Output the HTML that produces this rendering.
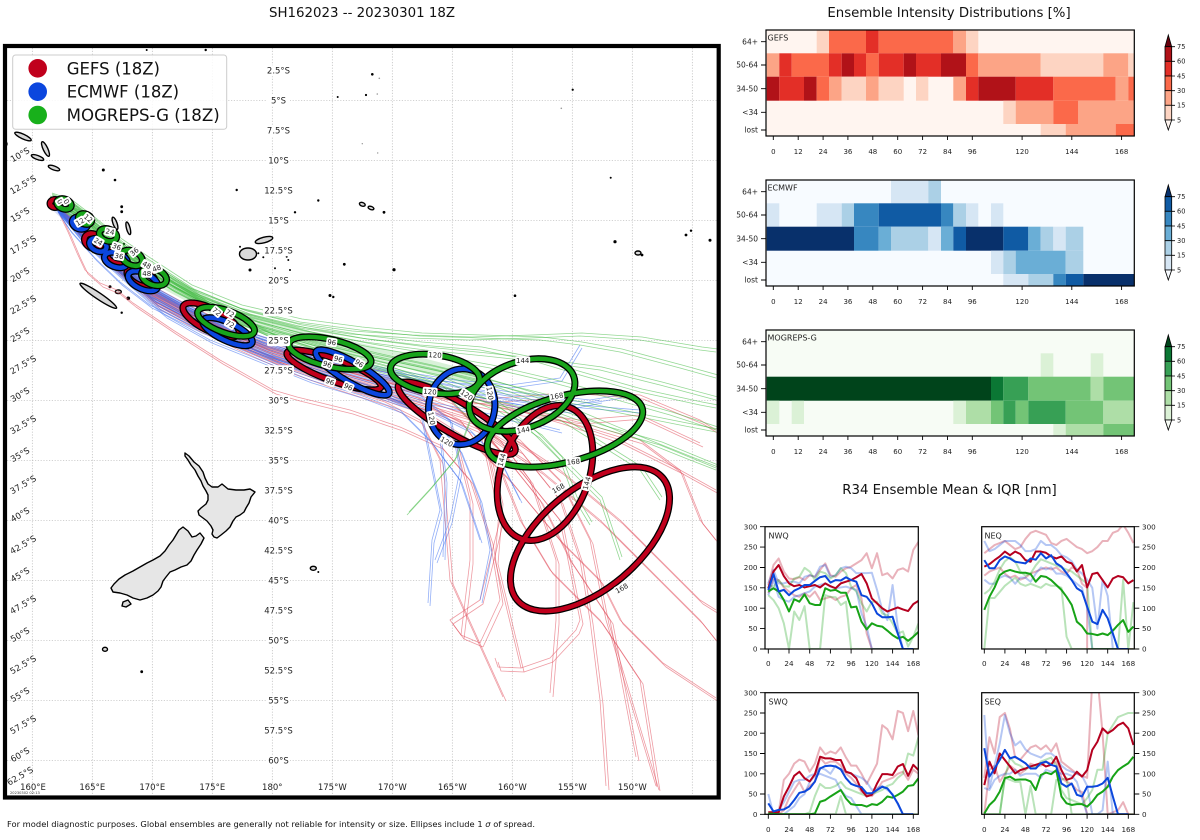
<!DOCTYPE html>
<html><head><meta charset="utf-8"><style>
html,body{margin:0;padding:0;background:#fff;}
svg{display:block;font-family:"DejaVu Sans","Liberation Sans",sans-serif;}
.tr{fill:none;stroke-width:0.8;stroke-opacity:0.55;stroke-linejoin:round}
.tg{stroke:#3cb83c}.tb{stroke:#3a6ef0}.trd{stroke:#e04858}
.gl{stroke:#b8b8b8;stroke-width:0.7;stroke-dasharray:1.2,1.6}
.lbl{font-size:8.5px;fill:#222}
.el{fill:none}
.ek{stroke:#000;stroke-width:7}
.er{stroke:#c0001c;stroke-width:4.4}
.eb{stroke:#0b46de;stroke-width:4.4}
.eg{stroke:#18a41b;stroke-width:4.4}
.elt{font-size:7px;fill:#222}
.tk{font-size:7.2px;fill:#222}
.ln{fill:none;vector-effect:non-scaling-stroke;stroke-width:2;stroke-linejoin:round}
.lt{fill:none;vector-effect:non-scaling-stroke;stroke-width:2;stroke-opacity:0.3;stroke-linejoin:round}
.R{stroke:#b5001f}.B{stroke:#0b47dc}.G{stroke:#17a317}
</style></head><body>
<svg width="1200" height="840" viewBox="0 0 1200 840" xmlns="http://www.w3.org/2000/svg">
<defs>
<clipPath id="mapclip"><rect x="7" y="48" width="709.7" height="747.5"/></clipPath>
<clipPath id="cNW"><rect x="765" y="526.7" width="153.3" height="122.3"/></clipPath>
<clipPath id="cNE"><rect x="981.7" y="526.7" width="152.6" height="122.3"/></clipPath>
<clipPath id="cSW"><rect x="765" y="692.7" width="153.3" height="121.6"/></clipPath>
<clipPath id="cSE"><rect x="981.7" y="692.7" width="152.6" height="121.6"/></clipPath>
<g id="trG">
<polyline class="tr tg" points="50,196 70,203 95,222 120,242 150,262 190,288 240,308 300,322 360,330 420,336 480,338 540,340 580,345 620,352 680,368 716,378"/>
<polyline class="tr tg" points="50,198 72,207 98,227 125,250 155,270 195,295 245,314 300,328 360,338 420,345 480,350 530,360 580,375 640,392 700,405 716,408"/>
<polyline class="tr tg" points="52,200 75,210 100,232 128,254 158,274 200,300 250,320 310,335 370,347 430,357 490,368 550,382 610,398 670,415 716,430"/>
<polyline class="tr tg" points="52,201 76,213 102,236 130,258 160,278 205,304 255,324 315,341 375,356 430,368 480,380 530,395 580,415 640,440 690,460 716,470"/>
<polyline class="tr tg" points="53,202 78,216 104,239 133,261 163,281 210,308 260,330 320,347 380,362 440,375 500,392 550,410 600,428 660,445 716,468"/>
<polyline class="tr tg" points="54,203 80,218 106,241 135,264 166,284 215,311 265,333 325,351 385,366 440,380 490,400 530,430 560,460 575,500 590,525"/>
<polyline class="tr tg" points="54,204 80,220 108,244 138,267 170,288 220,314 270,336 330,354 390,370 440,388 470,420 455,460 430,490 407,515"/>
<polyline class="tr tg" points="55,205 82,222 110,246 140,269 172,290 225,317 275,339 335,358 395,374 450,392 500,412 540,438 570,470 600,500 620,560"/>
<polyline class="tr tg" points="51,199 74,209 98,230 126,252 156,272 198,298 248,317 305,331 365,342 425,350 485,356 540,362 600,370 660,385 716,400"/>
<polyline class="tr tg" points="50,197 70,205 96,224 122,246 152,266 192,292 240,312 295,326 350,334 410,338 470,340 530,338 580,336 640,340 700,350 716,352"/>
<polyline class="tr tg" points="56,206 84,225 112,248 142,271 175,292 228,319 280,341 340,361 400,378 460,396 520,410 560,420 600,445 640,470 660,500"/>
<polyline class="tr tg" points="52,200 77,213 103,237 131,259 162,280 207,305 258,326 318,344 378,358 435,370 495,385 555,400 615,412 680,425 716,432"/>
</g>
<g id="trB">
<polyline class="tr tb" points="54,204 74,222 98,245 122,266 148,286 185,306 220,323 260,339 310,354 360,367 410,378 460,388 520,398 580,405 640,410"/>
<polyline class="tr tb" points="54,205 75,225 100,249 125,270 150,290 188,310 225,328 265,344 315,360 365,372 415,384 465,395 520,405 570,410"/>
<polyline class="tr tb" points="55,206 76,228 101,252 127,274 152,294 190,314 228,333 270,350 320,366 370,380 420,395 450,420 460,470 450,520 435,560"/>
<polyline class="tr tb" points="55,207 77,230 102,255 128,277 154,298 192,318 232,338 275,356 325,372 375,388 420,410 430,460 440,510 432,540 428,603"/>
<polyline class="tr tb" points="56,208 78,232 104,258 130,280 156,302 195,322 236,342 280,361 330,378 380,394 430,415 460,450 480,500 490,550 480,600"/>
<polyline class="tr tb" points="53,203 74,220 97,243 121,263 147,283 183,303 218,320 258,335 305,350 355,362 405,372 455,380 510,385 560,378 580,345"/>
<polyline class="tr tb" points="54,204 75,223 99,247 124,268 149,288 186,308 222,326 262,342 312,357 362,370 412,382 462,392 520,402 560,408 600,400"/>
<polyline class="tr tb" points="56,209 79,235 106,261 132,284 158,306 198,327 240,347 285,366 335,383 385,398 420,410 440,440 445,480 443,557"/>
<polyline class="tr tb" points="57,210 80,238 108,265 136,290 165,315 210,340 260,360 310,380 360,395 400,410 430,440 460,480 480,540"/>
<polyline class="tr tb" points="53,204 74,221 98,244 123,265 148,285 184,305 220,322 262,337 310,352 360,364 410,375 460,384 510,392 545,395 590,400 620,395"/>
<polyline class="tr tb" points="55,206 76,229 100,254 126,276 151,297 190,318 228,337 270,355 322,371 372,386 420,400 470,410 520,420 560,430"/>
<polyline class="tr tb" points="58,212 70,230 95,258 120,282 150,305 200,330 260,352 320,372 380,392 430,410 470,430 500,460 520,500"/>
</g>
<g id="trR">
<polyline class="tr trd" points="52,201 74,222 98,246 123,268 148,288 186,309 222,327 262,343 312,359 362,373 412,386 450,400 480,430 500,470 520,520 550,570 600,620 640,680 657,787"/>
<polyline class="tr trd" points="52,202 75,225 100,250 125,272 150,292 188,313 225,331 266,348 316,365 366,380 416,394 460,410 500,440 530,480 556,560 556,620 550,693"/>
<polyline class="tr trd" points="53,203 76,228 102,253 128,276 154,296 192,317 230,336 272,354 322,371 372,386 420,400 470,415 520,440 560,480 590,540 606,620 630,700 656,786"/>
<polyline class="tr trd" points="51,200 73,219 97,242 122,263 147,283 184,303 220,320 260,336 310,352 360,366 410,378 460,392 510,405 560,420 620,440 680,470 716,490"/>
<polyline class="tr trd" points="55,205 68,232 77,253 85,270 100,283 117,290 133,303 173,330 220,360 273,390 297,397 350,410 400,427 440,445 470,480 490,540 500,600 480,643"/>
<polyline class="tr trd" points="54,204 77,231 103,257 130,280 156,302 195,322 234,342 278,360 328,377 378,393 425,410 455,440 470,500 470,560 461,635"/>
<polyline class="tr trd" points="52,201 74,221 98,245 123,267 148,287 185,307 221,325 261,341 311,357 361,371 411,384 470,398 530,410 590,425 640,440 680,470 700,520 716,540"/>
<polyline class="tr trd" points="53,203 76,227 101,251 127,273 153,294 191,315 229,334 270,351 320,368 370,383 418,398 460,420 490,460 500,500 495,560 521,668 498,667 495,658"/>
<polyline class="tr trd" points="54,205 78,232 104,258 131,281 157,303 196,324 236,344 280,362 330,380 380,396 426,412 470,440 510,480 560,540 600,580 620,620 663,663 716,698"/>
<polyline class="tr trd" points="53,202 75,224 100,249 126,271 152,292 190,312 228,331 270,348 320,364 370,378 420,390 470,402 520,412 580,420 640,415 700,443"/>
<polyline class="tr trd" points="55,206 79,234 105,260 132,284 158,306 198,328 240,348 285,368 335,386 385,402 420,420 440,460 445,520 450,580 503,697"/>
<polyline class="tr trd" points="52,201 74,221 99,246 124,268 149,288 186,309 223,328 264,345 314,362 364,376 414,390 470,400 540,395 580,390 640,395 700,420 716,430"/>
<polyline class="tr trd" points="54,205 77,230 102,255 128,278 154,299 194,320 232,340 276,358 326,375 376,391 424,406 480,430 540,470 600,520 660,580 700,620 716,640"/>
<polyline class="tr trd" points="53,204 76,229 101,254 127,277 153,298 192,319 230,339 273,357 323,374 373,390 420,405 470,420 520,450 560,500 580,560 590,620 600,700 606,786"/>
<polyline class="tr trd" points="470,415 500,450 540,500 570,560 610,620 636,757"/>
<polyline class="tr trd" points="470,420 520,470 560,520 580,620 576,630 550,658 521,668"/>
<polyline class="tr trd" points="480,430 500,520 480,600 450,620 461,635 480,643"/>
<polyline class="tr trd" points="500,430 560,470 620,520 660,560 700,600 716,610"/>
</g>
</defs>

<!-- Titles -->
<text x="362" y="17" font-size="13.3" text-anchor="middle" fill="#111" textLength="186" lengthAdjust="spacingAndGlyphs">SH162023 -- 20230301 18Z</text>
<text x="949" y="17" font-size="13.3" text-anchor="middle" fill="#111">Ensemble Intensity Distributions [%]</text>
<text x="949.5" y="494" font-size="13.3" text-anchor="middle" fill="#111">R34 Ensemble Mean &amp; IQR [nm]</text>
<text x="7" y="827" font-size="7.5" fill="#111" textLength="528" lengthAdjust="spacingAndGlyphs">For model diagnostic purposes. Global ensembles are generally not reliable for intensity or size. Ellipses include 1 <tspan font-style="italic">σ</tspan> of spread.</text>

<!-- MAP -->
<g clip-path="url(#mapclip)">
<rect x="7" y="48" width="710" height="748" fill="#fff"/>
<g class="gl">
<line x1="32.3" y1="48" x2="32.3" y2="796"/><line x1="92.3" y1="48" x2="92.3" y2="796"/><line x1="152.3" y1="48" x2="152.3" y2="796"/><line x1="212.3" y1="48" x2="212.3" y2="796"/><line x1="272.3" y1="48" x2="272.3" y2="796"/><line x1="332.3" y1="48" x2="332.3" y2="796"/><line x1="392.3" y1="48" x2="392.3" y2="796"/><line x1="452.3" y1="48" x2="452.3" y2="796"/><line x1="512.3" y1="48" x2="512.3" y2="796"/><line x1="572.3" y1="48" x2="572.3" y2="796"/><line x1="632.3" y1="48" x2="632.3" y2="796"/><line x1="692.3" y1="48" x2="692.3" y2="796"/>
<line x1="7" y1="100.7" x2="717" y2="100.7"/><line x1="7" y1="160.7" x2="717" y2="160.7"/><line x1="7" y1="220.7" x2="717" y2="220.7"/><line x1="7" y1="280.7" x2="717" y2="280.7"/><line x1="7" y1="340.7" x2="717" y2="340.7"/><line x1="7" y1="400.7" x2="717" y2="400.7"/><line x1="7" y1="460.7" x2="717" y2="460.7"/><line x1="7" y1="520.7" x2="717" y2="520.7"/><line x1="7" y1="580.7" x2="717" y2="580.7"/><line x1="7" y1="640.7" x2="717" y2="640.7"/><line x1="7" y1="700.7" x2="717" y2="700.7"/><line x1="7" y1="760.7" x2="717" y2="760.7"/>
</g>

<!-- Land -->
<g fill="#d9d9d9" stroke="#000" stroke-width="1.4" stroke-linejoin="round">
<polygon fill="#e6e6e6" points="185,453 189,456 194,462 199,466 203,472 205,478 208,484 212,487 218,487 222,484 228,489 236,490 244,490 250,489 255,492 251,497 249,503 246,508 244,512 240,515 236,517 233,521 230,527 226,531 221,535 217,538 214,537 212,534 213,530 211,526 207,521 203,518 199,515 198,511 201,508 206,504 208,500 208,495 206,491 203,486 201,481 198,476 195,470 191,465 188,460 185,456"/>
<polygon fill="#e6e6e6" points="183,527 188,531 192,537 196,536 200,533 204,538 201,544 197,550 194,555 191,561 187,565 181,567 175,570 170,572 166,577 163,581 161,587 158,591 153,595 147,598 140,600 133,598 127,595 120,593 113,592 111,588 114,584 119,579 125,575 133,571 140,567 147,563 153,560 160,556 165,551 169,545 173,540 176,535 179,530"/>
<polygon points="123,602 128,600 131,604 126,607 122,606"/>
<ellipse cx="98.3" cy="295.8" rx="22" ry="3.2" transform="rotate(34 98.3 295.8)"/>
<ellipse cx="23" cy="136.5" rx="9" ry="2.3" transform="rotate(25 23 136.5)"/>
<ellipse cx="45.5" cy="149" rx="8" ry="2.3" transform="rotate(65 45.5 149)"/>
<ellipse cx="37.5" cy="157.5" rx="6.5" ry="2" transform="rotate(20 37.5 157.5)"/>
<ellipse cx="54" cy="168" rx="6" ry="2" transform="rotate(20 54 168)"/>
<ellipse cx="3" cy="144" rx="4" ry="3"/>
<ellipse cx="115" cy="223.3" rx="6.5" ry="2" transform="rotate(70 115 223.3)"/>
<ellipse cx="128.3" cy="228.3" rx="6.5" ry="1.8" transform="rotate(75 128.3 228.3)"/>
<ellipse cx="248" cy="254" rx="8.5" ry="6"/>
<ellipse cx="264" cy="240" rx="9" ry="2.8" transform="rotate(-15 264 240)"/>
<ellipse cx="118.3" cy="291.7" rx="3" ry="1.8"/>
<ellipse cx="313.3" cy="568.3" rx="3" ry="2"/>
<ellipse cx="105" cy="649.3" rx="2.5" ry="2"/>
<ellipse cx="362.3" cy="204.3" rx="3" ry="1.8" transform="rotate(20 362.3 204.3)"/>
<ellipse cx="371" cy="208" rx="3" ry="1.6" transform="rotate(20 371 208)"/>
<ellipse cx="638" cy="253" rx="3" ry="2"/>
</g>
<g fill="#000">
<circle cx="103.3" cy="170" r="1.5"/><circle cx="115" cy="180" r="1.3"/><circle cx="146.7" cy="50" r="1"/><circle cx="205.7" cy="50" r="1.2"/>
<circle cx="121.7" cy="206.7" r="1.4"/><circle cx="121.7" cy="211.7" r="1.4"/><circle cx="124" cy="244" r="1.2"/><circle cx="118" cy="236" r="1"/>
<circle cx="110" cy="286.7" r="1.5"/><circle cx="128.3" cy="298.3" r="1.8"/><circle cx="121.7" cy="312.7" r="1.2"/>
<circle cx="236.7" cy="190" r="1.2"/><circle cx="240" cy="246.7" r="1"/><circle cx="258.3" cy="253.3" r="1"/><circle cx="263.3" cy="257.3" r="1"/><circle cx="286.7" cy="256.7" r="1"/><circle cx="288.3" cy="260" r="1"/><circle cx="250" cy="270" r="1.5"/><circle cx="275" cy="268.3" r="1"/><circle cx="290" cy="270" r="1"/>
<circle cx="295" cy="212.3" r="1.2"/><circle cx="318.3" cy="200.5" r="1.2"/><circle cx="384" cy="212.3" r="1.4"/><circle cx="344.3" cy="264.3" r="1.4"/><circle cx="394" cy="269.7" r="1.6"/><circle cx="330" cy="295.5" r="1.5"/><circle cx="333.3" cy="297" r="1.2"/><circle cx="515" cy="295.7" r="1.3"/>
<circle cx="372.3" cy="74.3" r="1.3"/><circle cx="337.7" cy="97" r="1"/><circle cx="366" cy="95" r="1.1"/><circle cx="572.7" cy="89.7" r="1.1"/><circle cx="610.7" cy="177.7" r="1"/>
<circle cx="615" cy="241.7" r="1.6"/><circle cx="642" cy="255" r="1.4"/><circle cx="686" cy="235" r="1.4"/><circle cx="691" cy="230.7" r="1.2"/><circle cx="710" cy="240.3" r="1.5"/>
<circle cx="318.3" cy="572" r="1"/><circle cx="141.7" cy="671.7" r="1.4"/>
</g>
<g fill="#999"><circle cx="379.3" cy="78.3" r="0.8"/><circle cx="377.3" cy="94" r="0.8"/><circle cx="362.3" cy="143.7" r="0.7"/><circle cx="377.7" cy="153" r="0.7"/><circle cx="561.3" cy="108.3" r="0.8"/></g>

<!-- density bands -->
<polyline fill="none" stroke="#4cbf4c" stroke-opacity="0.22" stroke-width="14" stroke-linejoin="round" points="55,202 80,217 105,240 135,262 165,282 210,306 260,325 320,341 380,355 430,367 480,380"/>
<polyline fill="none" stroke="#4a74e8" stroke-opacity="0.22" stroke-width="11" stroke-linejoin="round" points="55,205 78,226 102,250 128,272 153,292 192,313 232,332 275,349 325,365 375,379 425,392"/>

<!-- Tracks -->
<use href="#trR"/><use href="#trR" transform="translate(3,4)"/>
<use href="#trB"/><use href="#trB" transform="translate(2,3)"/>
<use href="#trG"/><use href="#trG" transform="translate(2,-3)"/>

<!-- Ellipses: red -->
<g class="el">
<g class="ek">
<ellipse cx="55" cy="203.5" rx="5" ry="4"/>
<ellipse cx="93" cy="241" rx="9" ry="7" transform="rotate(30 93 241)"/>
<ellipse cx="116" cy="257" rx="10" ry="6" transform="rotate(25 116 257)"/>
<ellipse cx="141" cy="277" rx="15" ry="8" transform="rotate(25 141 277)"/>
<ellipse cx="211" cy="320" rx="31" ry="11" transform="rotate(27 211 320)"/>
<ellipse cx="334" cy="370" rx="50" ry="11" transform="rotate(20 334 370)"/>
<ellipse cx="456.7" cy="418.3" rx="67" ry="16" transform="rotate(30 456.7 418.3)"/>
<ellipse cx="545" cy="473" rx="44" ry="70" transform="rotate(20 545 473)"/>
<ellipse cx="590" cy="539" rx="95" ry="50" transform="rotate(-40 590 539)"/>
</g>
<g class="er">
<ellipse cx="55" cy="203.5" rx="5" ry="4"/>
<ellipse cx="93" cy="241" rx="9" ry="7" transform="rotate(30 93 241)"/>
<ellipse cx="116" cy="257" rx="10" ry="6" transform="rotate(25 116 257)"/>
<ellipse cx="141" cy="277" rx="15" ry="8" transform="rotate(25 141 277)"/>
<ellipse cx="211" cy="320" rx="31" ry="11" transform="rotate(27 211 320)"/>
<ellipse cx="334" cy="370" rx="50" ry="11" transform="rotate(20 334 370)"/>
<ellipse cx="456.7" cy="418.3" rx="67" ry="16" transform="rotate(30 456.7 418.3)"/>
<ellipse cx="545" cy="473" rx="44" ry="70" transform="rotate(20 545 473)"/>
<ellipse cx="590" cy="539" rx="95" ry="50" transform="rotate(-40 590 539)"/>
</g>
<!-- blue -->
<g class="ek">
<ellipse cx="80" cy="223" rx="8" ry="6" transform="rotate(20 80 223)"/>
<ellipse cx="98" cy="245" rx="9" ry="6" transform="rotate(25 98 245)"/>
<ellipse cx="116" cy="260" rx="12" ry="7" transform="rotate(20 116 260)"/>
<ellipse cx="143" cy="281" rx="16" ry="8" transform="rotate(25 143 281)"/>
<ellipse cx="227.5" cy="331.7" rx="27" ry="9" transform="rotate(25 227.5 331.7)"/>
<ellipse cx="352.5" cy="372.5" rx="42" ry="10" transform="rotate(30 352.5 372.5)"/>
<ellipse cx="461.7" cy="406.7" rx="33" ry="38" transform="rotate(10 461.7 406.7)"/>
</g>
<g class="eb">
<ellipse cx="80" cy="223" rx="8" ry="6" transform="rotate(20 80 223)"/>
<ellipse cx="98" cy="245" rx="9" ry="6" transform="rotate(25 98 245)"/>
<ellipse cx="116" cy="260" rx="12" ry="7" transform="rotate(20 116 260)"/>
<ellipse cx="143" cy="281" rx="16" ry="8" transform="rotate(25 143 281)"/>
<ellipse cx="227.5" cy="331.7" rx="27" ry="9" transform="rotate(25 227.5 331.7)"/>
<ellipse cx="352.5" cy="372.5" rx="42" ry="10" transform="rotate(30 352.5 372.5)"/>
<ellipse cx="461.7" cy="406.7" rx="33" ry="38" transform="rotate(10 461.7 406.7)"/>
</g>
<!-- green -->
<g class="ek">
<ellipse cx="64" cy="204" rx="7.5" ry="5" transform="rotate(20 64 204)"/>
<ellipse cx="85" cy="219" rx="7" ry="5" transform="rotate(25 85 219)"/>
<ellipse cx="108" cy="235" rx="9" ry="6" transform="rotate(20 108 235)"/>
<ellipse cx="132" cy="258" rx="11" ry="7" transform="rotate(25 132 258)"/>
<ellipse cx="154" cy="277" rx="13" ry="8" transform="rotate(20 154 277)"/>
<ellipse cx="226" cy="321.7" rx="30" ry="11" transform="rotate(20 226 321.7)"/>
<ellipse cx="330" cy="353" rx="42" ry="13.5" transform="rotate(13 330 353)"/>
<ellipse cx="435" cy="374" rx="45" ry="19" transform="rotate(8 435 374)"/>
<ellipse cx="522" cy="395" rx="55" ry="33" transform="rotate(-20 522 395)"/>
<ellipse cx="565" cy="429" rx="80" ry="33" transform="rotate(-15 565 429)"/>
</g>
<g class="eg">
<ellipse cx="64" cy="204" rx="7.5" ry="5" transform="rotate(20 64 204)"/>
<ellipse cx="85" cy="219" rx="7" ry="5" transform="rotate(25 85 219)"/>
<ellipse cx="108" cy="235" rx="9" ry="6" transform="rotate(20 108 235)"/>
<ellipse cx="132" cy="258" rx="11" ry="7" transform="rotate(25 132 258)"/>
<ellipse cx="154" cy="277" rx="13" ry="8" transform="rotate(20 154 277)"/>
<ellipse cx="226" cy="321.7" rx="30" ry="11" transform="rotate(20 226 321.7)"/>
<ellipse cx="330" cy="353" rx="42" ry="13.5" transform="rotate(13 330 353)"/>
<ellipse cx="435" cy="374" rx="45" ry="19" transform="rotate(8 435 374)"/>
<ellipse cx="522" cy="395" rx="55" ry="33" transform="rotate(-20 522 395)"/>
<ellipse cx="565" cy="429" rx="80" ry="33" transform="rotate(-15 565 429)"/>
</g>
</g>

<!-- Ellipse labels -->
<g class="elt" text-anchor="middle">
<g transform="translate(60,201.5) rotate(60)"><rect x="-3.5" y="-4.5" width="7" height="9" rx="2" fill="#fff"/><text y="2.5">0</text></g>
<g transform="translate(66.5,201.5) rotate(60)"><rect x="-3.5" y="-4.5" width="7" height="9" rx="2" fill="#fff"/><text y="2.5">0</text></g>
<g transform="translate(80,221.7) rotate(-30)"><rect x="-5.5" y="-4.5" width="11" height="9" rx="2" fill="#fff"/><text y="2.5">12</text></g>
<g transform="translate(88.3,218.3) rotate(40)"><rect x="-5.5" y="-4.5" width="11" height="9" rx="2" fill="#fff"/><text y="2.5">12</text></g>
<g transform="translate(98.3,241.7) rotate(30)"><rect x="-5.5" y="-4.5" width="11" height="9" rx="2" fill="#fff"/><text y="2.5">24</text></g>
<g transform="translate(110,231.7) rotate(10)"><rect x="-5.5" y="-4.5" width="11" height="9" rx="2" fill="#fff"/><text y="2.5">24</text></g>
<g transform="translate(116.7,246.7) rotate(20)"><rect x="-5.5" y="-4.5" width="11" height="9" rx="2" fill="#fff"/><text y="2.5">36</text></g>
<g transform="translate(119,256) rotate(10)"><rect x="-5.5" y="-4.5" width="11" height="9" rx="2" fill="#fff"/><text y="2.5">36</text></g>
<g transform="translate(134.3,251.7) rotate(-40)"><rect x="-5.5" y="-4.5" width="11" height="9" rx="2" fill="#fff"/><text y="2.5">36</text></g>
<g transform="translate(146.7,265) rotate(30)"><rect x="-5.5" y="-4.5" width="11" height="9" rx="2" fill="#fff"/><text y="2.5">48</text></g>
<g transform="translate(156.7,268.3) rotate(-20)"><rect x="-5.5" y="-4.5" width="11" height="9" rx="2" fill="#fff"/><text y="2.5">48</text></g>
<g transform="translate(146.7,273.3) rotate(0)"><rect x="-5.5" y="-4.5" width="11" height="9" rx="2" fill="#fff"/><text y="2.5">48</text></g>
<g transform="translate(216.7,311.7) rotate(40)"><rect x="-5.5" y="-4.5" width="11" height="9" rx="2" fill="#fff"/><text y="2.5">72</text></g>
<g transform="translate(230,313.3) rotate(30)"><rect x="-5.5" y="-4.5" width="11" height="9" rx="2" fill="#fff"/><text y="2.5">72</text></g>
<g transform="translate(230,324) rotate(30)"><rect x="-5.5" y="-4.5" width="11" height="9" rx="2" fill="#fff"/><text y="2.5">72</text></g>
<g transform="translate(331.7,342.3) rotate(8)"><rect x="-5.5" y="-4.5" width="11" height="9" rx="2" fill="#fff"/><text y="2.5">96</text></g>
<g transform="translate(338.3,359) rotate(15)"><rect x="-5.5" y="-4.5" width="11" height="9" rx="2" fill="#fff"/><text y="2.5">96</text></g>
<g transform="translate(327.3,364.3) rotate(20)"><rect x="-5.5" y="-4.5" width="11" height="9" rx="2" fill="#fff"/><text y="2.5">96</text></g>
<g transform="translate(359.3,363.3) rotate(35)"><rect x="-5.5" y="-4.5" width="11" height="9" rx="2" fill="#fff"/><text y="2.5">96</text></g>
<g transform="translate(330,381.7) rotate(20)"><rect x="-5.5" y="-4.5" width="11" height="9" rx="2" fill="#fff"/><text y="2.5">96</text></g>
<g transform="translate(348.3,386.7) rotate(25)"><rect x="-5.5" y="-4.5" width="11" height="9" rx="2" fill="#fff"/><text y="2.5">96</text></g>
<g transform="translate(435,355) rotate(3)"><rect x="-7.5" y="-4.5" width="15" height="9" rx="2" fill="#fff"/><text y="2.5">120</text></g>
<g transform="translate(430,391.7) rotate(5)"><rect x="-7.5" y="-4.5" width="15" height="9" rx="2" fill="#fff"/><text y="2.5">120</text></g>
<g transform="translate(466.7,395) rotate(35)"><rect x="-7.5" y="-4.5" width="15" height="9" rx="2" fill="#fff"/><text y="2.5">120</text></g>
<g transform="translate(490,393.3) rotate(80)"><rect x="-7.5" y="-4.5" width="15" height="9" rx="2" fill="#fff"/><text y="2.5">120</text></g>
<g transform="translate(431.7,418.3) rotate(80)"><rect x="-7.5" y="-4.5" width="15" height="9" rx="2" fill="#fff"/><text y="2.5">120</text></g>
<g transform="translate(446.7,441.7) rotate(30)"><rect x="-7.5" y="-4.5" width="15" height="9" rx="2" fill="#fff"/><text y="2.5">120</text></g>
<g transform="translate(522.7,360.7) rotate(0)"><rect x="-7.5" y="-4.5" width="15" height="9" rx="2" fill="#fff"/><text y="2.5">144</text></g>
<g transform="translate(523.3,430) rotate(-10)"><rect x="-7.5" y="-4.5" width="15" height="9" rx="2" fill="#fff"/><text y="2.5">144</text></g>
<g transform="translate(501.7,460) rotate(-75)"><rect x="-7.5" y="-4.5" width="15" height="9" rx="2" fill="#fff"/><text y="2.5">144</text></g>
<g transform="translate(586.7,483.3) rotate(-75)"><rect x="-7.5" y="-4.5" width="15" height="9" rx="2" fill="#fff"/><text y="2.5">144</text></g>
<g transform="translate(556.7,396) rotate(-10)"><rect x="-7.5" y="-4.5" width="15" height="9" rx="2" fill="#fff"/><text y="2.5">168</text></g>
<g transform="translate(573.3,461.7) rotate(-5)"><rect x="-7.5" y="-4.5" width="15" height="9" rx="2" fill="#fff"/><text y="2.5">168</text></g>
<g transform="translate(558.3,488.3) rotate(-30)"><rect x="-7.5" y="-4.5" width="15" height="9" rx="2" fill="#fff"/><text y="2.5">168</text></g>
<g transform="translate(621.7,588.3) rotate(-30)"><rect x="-7.5" y="-4.5" width="15" height="9" rx="2" fill="#fff"/><text y="2.5">168</text></g>
</g>

<!-- center latitude labels -->
<g class="lbl" text-anchor="middle">
<rect x="265" y="65.2" width="27" height="11" rx="2" fill="#fff"/><text x="278.5" y="73.7">2.5°S</text>
<rect x="267" y="95.2" width="23" height="11" rx="2" fill="#fff"/><text x="278.5" y="103.7">5°S</text>
<rect x="265" y="125.2" width="27" height="11" rx="2" fill="#fff"/><text x="278.5" y="133.7">7.5°S</text>
<rect x="267" y="155.2" width="23" height="11" rx="2" fill="#fff"/><text x="278.5" y="163.7">10°S</text>
<rect x="263" y="185.2" width="31" height="11" rx="2" fill="#fff"/><text x="278.5" y="193.7">12.5°S</text>
<rect x="267" y="215.2" width="23" height="11" rx="2" fill="#fff"/><text x="278.5" y="223.7">15°S</text>
<rect x="263" y="245.2" width="31" height="11" rx="2" fill="#fff"/><text x="278.5" y="253.7">17.5°S</text>
<rect x="267" y="275.2" width="23" height="11" rx="2" fill="#fff"/><text x="278.5" y="283.7">20°S</text>
<rect x="263" y="305.2" width="31" height="11" rx="2" fill="#fff"/><text x="278.5" y="313.7">22.5°S</text>
<rect x="267" y="335.2" width="23" height="11" rx="2" fill="#fff"/><text x="278.5" y="343.7">25°S</text>
<rect x="263" y="365.2" width="31" height="11" rx="2" fill="#fff"/><text x="278.5" y="373.7">27.5°S</text>
<rect x="267" y="395.2" width="23" height="11" rx="2" fill="#fff"/><text x="278.5" y="403.7">30°S</text>
<rect x="263" y="425.2" width="31" height="11" rx="2" fill="#fff"/><text x="278.5" y="433.7">32.5°S</text>
<rect x="267" y="455.2" width="23" height="11" rx="2" fill="#fff"/><text x="278.5" y="463.7">35°S</text>
<rect x="263" y="485.2" width="31" height="11" rx="2" fill="#fff"/><text x="278.5" y="493.7">37.5°S</text>
<rect x="267" y="515.2" width="23" height="11" rx="2" fill="#fff"/><text x="278.5" y="523.7">40°S</text>
<rect x="263" y="545.2" width="31" height="11" rx="2" fill="#fff"/><text x="278.5" y="553.7">42.5°S</text>
<rect x="267" y="575.2" width="23" height="11" rx="2" fill="#fff"/><text x="278.5" y="583.7">45°S</text>
<rect x="263" y="605.2" width="31" height="11" rx="2" fill="#fff"/><text x="278.5" y="613.7">47.5°S</text>
<rect x="267" y="635.2" width="23" height="11" rx="2" fill="#fff"/><text x="278.5" y="643.7">50°S</text>
<rect x="263" y="665.2" width="31" height="11" rx="2" fill="#fff"/><text x="278.5" y="673.7">52.5°S</text>
<rect x="267" y="695.2" width="23" height="11" rx="2" fill="#fff"/><text x="278.5" y="703.7">55°S</text>
<rect x="263" y="725.2" width="31" height="11" rx="2" fill="#fff"/><text x="278.5" y="733.7">57.5°S</text>
<rect x="267" y="755.2" width="23" height="11" rx="2" fill="#fff"/><text x="278.5" y="763.7">60°S</text>
</g>

<!-- left rotated labels -->
<g class="lbl" text-anchor="middle">
<text transform="translate(20,154.7) rotate(-30)" y="3">10°S</text>
<text transform="translate(23,184.7) rotate(-30)" y="3">12.5°S</text>
<text transform="translate(20,214.7) rotate(-30)" y="3">15°S</text>
<text transform="translate(23,244.7) rotate(-30)" y="3">17.5°S</text>
<text transform="translate(20,274.7) rotate(-30)" y="3">20°S</text>
<text transform="translate(23,304.7) rotate(-30)" y="3">22.5°S</text>
<text transform="translate(20,334.7) rotate(-30)" y="3">25°S</text>
<text transform="translate(23,364.7) rotate(-30)" y="3">27.5°S</text>
<text transform="translate(20,394.7) rotate(-30)" y="3">30°S</text>
<text transform="translate(23,424.7) rotate(-30)" y="3">32.5°S</text>
<text transform="translate(20,454.7) rotate(-30)" y="3">35°S</text>
<text transform="translate(23,484.7) rotate(-30)" y="3">37.5°S</text>
<text transform="translate(20,514.7) rotate(-30)" y="3">40°S</text>
<text transform="translate(23,544.7) rotate(-30)" y="3">42.5°S</text>
<text transform="translate(20,574.7) rotate(-30)" y="3">45°S</text>
<text transform="translate(23,604.7) rotate(-30)" y="3">47.5°S</text>
<text transform="translate(20,634.7) rotate(-30)" y="3">50°S</text>
<text transform="translate(23,664.7) rotate(-30)" y="3">52.5°S</text>
<text transform="translate(20,694.7) rotate(-30)" y="3">55°S</text>
<text transform="translate(23,724.7) rotate(-30)" y="3">57.5°S</text>
<text transform="translate(20,754.7) rotate(-30)" y="3">60°S</text>
<text transform="translate(20,776) rotate(-30)" y="3">62.5°S</text>
</g>
<!-- bottom longitude labels -->
<g class="lbl" text-anchor="middle">
<text x="33" y="790">160°E</text><text x="92.3" y="790">165°E</text><text x="152.3" y="790">170°E</text><text x="212.3" y="790">175°E</text><text x="272.3" y="790">180°</text><text x="332.3" y="790">175°W</text><text x="392.3" y="790">170°W</text><text x="452.3" y="790">165°W</text><text x="512.3" y="790">160°W</text><text x="572.3" y="790">155°W</text><text x="632.3" y="790">150°W</text>
</g>
<text x="10" y="794" font-size="3.6" fill="#333">20230302 02:13</text>

<!-- legend -->
<rect x="12.7" y="55" width="214" height="74.3" rx="3" fill="#fff" fill-opacity="0.85" stroke="#ccc" stroke-width="1"/>
<circle cx="37.7" cy="68.3" r="9.3" fill="#c0001c"/>
<circle cx="37.7" cy="91.7" r="9.3" fill="#0b46de"/>
<circle cx="37.7" cy="115" r="9.3" fill="#18b01b"/>
<g font-size="16.5" fill="#111">
<text x="66.7" y="74.3">GEFS (18Z)</text>
<text x="66.7" y="97.7">ECMWF (18Z)</text>
<text x="66.7" y="121" textLength="153" lengthAdjust="spacingAndGlyphs">MOGREPS-G (18Z)</text>
</g>
</g>
<!-- map frame -->
<rect x="5" y="46" width="713.7" height="751.5" fill="none" stroke="#000" stroke-width="4.2"/>

<!-- ===== HEATMAPS ===== -->
<!-- GEFS -->
<rect x="766.7" y="30" width="367.6" height="106" fill="#fff5f0"/>
<g>
<rect x="816.7" y="30" width="12.3" height="23.3" fill="#fdd4c2"/><rect x="829" y="30" width="37" height="23.3" fill="#fb694a"/><rect x="866" y="30" width="12.7" height="23.3" fill="#e32f27"/><rect x="878.7" y="30" width="74.6" height="23.3" fill="#fb694a"/><rect x="953.3" y="30" width="12.7" height="23.3" fill="#fca486"/><rect x="966" y="30" width="12.3" height="23.3" fill="#fdd4c2"/>
<rect x="766.7" y="53.3" width="12.6" height="23.4" fill="#fca486"/><rect x="779.3" y="53.3" width="12.4" height="23.4" fill="#e32f27"/><rect x="791.7" y="53.3" width="37.3" height="23.4" fill="#fb694a"/><rect x="829" y="53.3" width="12.7" height="23.4" fill="#e32f27"/><rect x="841.7" y="53.3" width="12.3" height="23.4" fill="#b11218"/><rect x="854" y="53.3" width="12" height="23.4" fill="#e32f27"/><rect x="866" y="53.3" width="12.7" height="23.4" fill="#fb694a"/><rect x="878.7" y="53.3" width="25" height="23.4" fill="#e32f27"/><rect x="903.7" y="53.3" width="12.3" height="23.4" fill="#b11218"/><rect x="916" y="53.3" width="25" height="23.4" fill="#e32f27"/><rect x="941" y="53.3" width="25" height="23.4" fill="#b11218"/><rect x="966" y="53.3" width="12.3" height="23.4" fill="#fb694a"/><rect x="978.3" y="53.3" width="62.4" height="23.4" fill="#fca486"/><rect x="1040.7" y="53.3" width="62.6" height="23.4" fill="#fdd4c2"/><rect x="1103.3" y="53.3" width="25" height="23.4" fill="#fca486"/><rect x="1128.3" y="53.3" width="6" height="23.4" fill="#fdd4c2"/>
<rect x="766.7" y="76.7" width="12.6" height="24" fill="#b11218"/><rect x="779.3" y="76.7" width="24.7" height="24" fill="#e32f27"/><rect x="804" y="76.7" width="12.7" height="24" fill="#b11218"/><rect x="816.7" y="76.7" width="12.3" height="24" fill="#fb694a"/><rect x="829" y="76.7" width="12.7" height="24" fill="#fca486"/><rect x="841.7" y="76.7" width="24.3" height="24" fill="#fdd4c2"/><rect x="866" y="76.7" width="12.7" height="24" fill="#fca486"/><rect x="878.7" y="76.7" width="25" height="24" fill="#fdd4c2"/><rect x="916" y="76.7" width="12.3" height="24" fill="#fdd4c2"/><rect x="953.3" y="76.7" width="12.7" height="24" fill="#fca486"/><rect x="966" y="76.7" width="12.3" height="24" fill="#e32f27"/><rect x="978.3" y="76.7" width="37.4" height="24" fill="#b11218"/><rect x="1015.7" y="76.7" width="37.6" height="24" fill="#e32f27"/><rect x="1053.3" y="76.7" width="62.4" height="24" fill="#fb694a"/><rect x="1115.7" y="76.7" width="12.6" height="24" fill="#fca486"/><rect x="1128.3" y="76.7" width="6" height="24" fill="#fb694a"/>
<rect x="1003.3" y="100.7" width="12.4" height="23.3" fill="#fdd4c2"/><rect x="1015.7" y="100.7" width="37.6" height="23.3" fill="#fca486"/><rect x="1053.3" y="100.7" width="25" height="23.3" fill="#fb694a"/><rect x="1078.3" y="100.7" width="56" height="23.3" fill="#fca486"/>
<rect x="1040.7" y="124" width="25" height="12" fill="#fdd4c2"/><rect x="1065.7" y="124" width="50" height="12" fill="#fca486"/><rect x="1115.7" y="124" width="18.6" height="12" fill="#fb694a"/>
</g>
<rect x="766" y="30" width="368.3" height="106" fill="none" stroke="#000" stroke-width="1.2"/>
<text x="767.5" y="40.5" font-size="8" fill="#222">GEFS</text>

<!-- ECMWF -->
<rect x="766.7" y="180" width="367.6" height="106" fill="#f7fbff"/>
<g>
<rect x="891" y="180" width="37.3" height="23.3" fill="#d6e6f4"/><rect x="928.3" y="180" width="12.7" height="23.3" fill="#abd0e6"/>
<rect x="766.7" y="203.3" width="12.6" height="23.4" fill="#d6e6f4"/><rect x="816.7" y="203.3" width="25" height="23.4" fill="#d6e6f4"/><rect x="841.7" y="203.3" width="12.3" height="23.4" fill="#abd0e6"/><rect x="854" y="203.3" width="24.7" height="23.4" fill="#3787c0"/><rect x="878.7" y="203.3" width="62.3" height="23.4" fill="#105ba4"/><rect x="941" y="203.3" width="12.3" height="23.4" fill="#3787c0"/><rect x="953.3" y="203.3" width="12.7" height="23.4" fill="#abd0e6"/><rect x="966" y="203.3" width="12.3" height="23.4" fill="#d6e6f4"/><rect x="991" y="203.3" width="12.3" height="23.4" fill="#d6e6f4"/>
<rect x="766.7" y="226.7" width="87.3" height="24" fill="#08306b"/><rect x="854" y="226.7" width="24.7" height="24" fill="#3787c0"/><rect x="878.7" y="226.7" width="12.3" height="24" fill="#6aaed6"/><rect x="891" y="226.7" width="37.3" height="24" fill="#abd0e6"/><rect x="928.3" y="226.7" width="12.7" height="24" fill="#d6e6f4"/><rect x="941" y="226.7" width="12.3" height="24" fill="#6aaed6"/><rect x="953.3" y="226.7" width="12.7" height="24" fill="#105ba4"/><rect x="966" y="226.7" width="37.3" height="24" fill="#08306b"/><rect x="1003.3" y="226.7" width="25" height="24" fill="#105ba4"/><rect x="1028.3" y="226.7" width="12.4" height="24" fill="#6aaed6"/><rect x="1040.7" y="226.7" width="12.6" height="24" fill="#abd0e6"/><rect x="1053.3" y="226.7" width="12.4" height="24" fill="#d6e6f4"/><rect x="1065.7" y="226.7" width="17.6" height="24" fill="#abd0e6"/>
<rect x="991" y="250.7" width="12.3" height="23.3" fill="#d6e6f4"/><rect x="1003.3" y="250.7" width="12.4" height="23.3" fill="#abd0e6"/><rect x="1015.7" y="250.7" width="50" height="23.3" fill="#6aaed6"/><rect x="1065.7" y="250.7" width="17.6" height="23.3" fill="#abd0e6"/>
<rect x="1003.3" y="274" width="25" height="12" fill="#d6e6f4"/><rect x="1028.3" y="274" width="25" height="12" fill="#abd0e6"/><rect x="1053.3" y="274" width="12.4" height="12" fill="#3787c0"/><rect x="1065.7" y="274" width="17.6" height="12" fill="#105ba4"/><rect x="1083.3" y="274" width="51" height="12" fill="#08306b"/>
</g>
<rect x="766" y="180" width="368.3" height="106" fill="none" stroke="#000" stroke-width="1.2"/>
<text x="767.5" y="190.5" font-size="8" fill="#222">ECMWF</text>

<!-- MOGREPS -->
<rect x="766.7" y="330" width="367.6" height="106" fill="#f7fcf5"/>
<g>
<rect x="1040.7" y="353.3" width="12.6" height="23.4" fill="#dbf1d6"/><rect x="1090.7" y="353.3" width="12.6" height="23.4" fill="#dbf1d6"/>
<rect x="766.7" y="376.7" width="224.3" height="24" fill="#00441b"/><rect x="991" y="376.7" width="12.3" height="24" fill="#0b7734"/><rect x="1003.3" y="376.7" width="25" height="24" fill="#37a055"/><rect x="1028.3" y="376.7" width="62.4" height="24" fill="#73c476"/><rect x="1090.7" y="376.7" width="12.6" height="24" fill="#aedea7"/><rect x="1103.3" y="376.7" width="31" height="24" fill="#73c476"/>
<rect x="766.7" y="400.7" width="12.6" height="23.3" fill="#dbf1d6"/><rect x="791.7" y="400.7" width="12.3" height="23.3" fill="#dbf1d6"/><rect x="953.3" y="400.7" width="12.7" height="23.3" fill="#dbf1d6"/><rect x="966" y="400.7" width="25" height="23.3" fill="#aedea7"/><rect x="991" y="400.7" width="12.3" height="23.3" fill="#73c476"/><rect x="1003.3" y="400.7" width="12.4" height="23.3" fill="#37a055"/><rect x="1015.7" y="400.7" width="12.6" height="23.3" fill="#73c476"/><rect x="1028.3" y="400.7" width="37.4" height="23.3" fill="#37a055"/><rect x="1065.7" y="400.7" width="37.6" height="23.3" fill="#73c476"/><rect x="1103.3" y="400.7" width="31" height="23.3" fill="#aedea7"/>
<rect x="1053.3" y="424" width="12.4" height="12" fill="#dbf1d6"/><rect x="1065.7" y="424" width="37.6" height="12" fill="#aedea7"/><rect x="1103.3" y="424" width="31" height="12" fill="#73c476"/>
</g>
<rect x="766" y="330" width="368.3" height="106" fill="none" stroke="#000" stroke-width="1.2"/>
<text x="767.5" y="340.5" font-size="8" fill="#222">MOGREPS-G</text>

<!-- heatmap ticks and labels -->
<g stroke="#000" stroke-width="0.9">
<path d="M761,41.7H766M761,65H766M761,88.7H766M761,112.3H766M761,130H766"/>
<path d="M761,191.7H766M761,215H766M761,238.7H766M761,262.3H766M761,280H766"/>
<path d="M761,341.7H766M761,365H766M761,388.7H766M761,412.3H766M761,430H766"/>
<path d="M773.3,136V140M798.2,136V140M823.1,136V140M847.9,136V140M872.8,136V140M897.7,136V140M922.6,136V140M947.5,136V140M972.3,136V140M1022.1,136V140M1071.8,136V140M1121.6,136V140"/>
<path d="M773.3,286V290M798.2,286V290M823.1,286V290M847.9,286V290M872.8,286V290M897.7,286V290M922.6,286V290M947.5,286V290M972.3,286V290M1022.1,286V290M1071.8,286V290M1121.6,286V290"/>
<path d="M773.3,436V440M798.2,436V440M823.1,436V440M847.9,436V440M872.8,436V440M897.7,436V440M922.6,436V440M947.5,436V440M972.3,436V440M1022.1,436V440M1071.8,436V440M1121.6,436V440"/>
</g>
<g font-size="7.5" fill="#222" text-anchor="end">
<text x="758" y="44.4">64+</text><text x="758" y="67.7">50-64</text><text x="758" y="91.4">34-50</text><text x="758" y="115">&lt;34</text><text x="758" y="132.7">lost</text>
<text x="758" y="194.4">64+</text><text x="758" y="217.7">50-64</text><text x="758" y="241.4">34-50</text><text x="758" y="265">&lt;34</text><text x="758" y="282.7">lost</text>
<text x="758" y="344.4">64+</text><text x="758" y="367.7">50-64</text><text x="758" y="391.4">34-50</text><text x="758" y="415">&lt;34</text><text x="758" y="432.7">lost</text>
</g>
<g font-size="7" fill="#222" text-anchor="middle">
<text x="773.3" y="154">0</text><text x="798.2" y="154">12</text><text x="823.1" y="154">24</text><text x="847.9" y="154">36</text><text x="872.8" y="154">48</text><text x="897.7" y="154">60</text><text x="922.6" y="154">72</text><text x="947.5" y="154">84</text><text x="972.3" y="154">96</text><text x="1022.1" y="154">120</text><text x="1071.8" y="154">144</text><text x="1121.6" y="154">168</text>
<text x="773.3" y="304">0</text><text x="798.2" y="304">12</text><text x="823.1" y="304">24</text><text x="847.9" y="304">36</text><text x="872.8" y="304">48</text><text x="897.7" y="304">60</text><text x="922.6" y="304">72</text><text x="947.5" y="304">84</text><text x="972.3" y="304">96</text><text x="1022.1" y="304">120</text><text x="1071.8" y="304">144</text><text x="1121.6" y="304">168</text>
<text x="773.3" y="454">0</text><text x="798.2" y="454">12</text><text x="823.1" y="454">24</text><text x="847.9" y="454">36</text><text x="872.8" y="454">48</text><text x="897.7" y="454">60</text><text x="922.6" y="454">72</text><text x="947.5" y="454">84</text><text x="972.3" y="454">96</text><text x="1022.1" y="454">120</text><text x="1071.8" y="454">144</text><text x="1121.6" y="454">168</text>
</g>

<!-- colorbars -->
<g stroke="#000" stroke-width="0.8">
<polygon points="1165,46.7 1168.3,35 1171.7,46.7" fill="#67000d"/>
<rect x="1165" y="46.7" width="6.7" height="14.6" fill="#b11218"/><rect x="1165" y="61.3" width="6.7" height="14.7" fill="#e32f27"/><rect x="1165" y="76" width="6.7" height="14.7" fill="#fb694a"/><rect x="1165" y="90.7" width="6.7" height="14.6" fill="#fca486"/><rect x="1165" y="105.3" width="6.7" height="14.7" fill="#fdd4c2"/>
<polygon points="1165,120 1168.3,130 1171.7,120" fill="#fff5f0"/>
<path d="M1171.7,46.7H1175M1171.7,61.3H1175M1171.7,76H1175M1171.7,90.7H1175M1171.7,105.3H1175M1171.7,120H1175"/>
<polygon points="1165,196.7 1168.3,185 1171.7,196.7" fill="#08306b"/>
<rect x="1165" y="196.7" width="6.7" height="14.6" fill="#105ba4"/><rect x="1165" y="211.3" width="6.7" height="14.7" fill="#3787c0"/><rect x="1165" y="226" width="6.7" height="14.7" fill="#6aaed6"/><rect x="1165" y="240.7" width="6.7" height="14.6" fill="#abd0e6"/><rect x="1165" y="255.3" width="6.7" height="14.7" fill="#d6e6f4"/>
<polygon points="1165,270 1168.3,280 1171.7,270" fill="#f7fbff"/>
<path d="M1171.7,196.7H1175M1171.7,211.3H1175M1171.7,226H1175M1171.7,240.7H1175M1171.7,255.3H1175M1171.7,270H1175"/>
<polygon points="1165,346.7 1168.3,335 1171.7,346.7" fill="#00441b"/>
<rect x="1165" y="346.7" width="6.7" height="14.6" fill="#0b7734"/><rect x="1165" y="361.3" width="6.7" height="14.7" fill="#37a055"/><rect x="1165" y="376" width="6.7" height="14.7" fill="#73c476"/><rect x="1165" y="390.7" width="6.7" height="14.6" fill="#aedea7"/><rect x="1165" y="405.3" width="6.7" height="14.7" fill="#dbf1d6"/>
<polygon points="1165,420 1168.3,430 1171.7,420" fill="#f7fcf5"/>
<path d="M1171.7,346.7H1175M1171.7,361.3H1175M1171.7,376H1175M1171.7,390.7H1175M1171.7,405.3H1175M1171.7,420H1175"/>
</g>
<g font-size="6.6" fill="#222">
<text x="1177" y="49">75</text><text x="1177" y="63.6">60</text><text x="1177" y="78.3">45</text><text x="1177" y="93">30</text><text x="1177" y="107.6">15</text><text x="1177" y="122.3">5</text>
<text x="1177" y="199">75</text><text x="1177" y="213.6">60</text><text x="1177" y="228.3">45</text><text x="1177" y="243">30</text><text x="1177" y="257.6">15</text><text x="1177" y="272.3">5</text>
<text x="1177" y="349">75</text><text x="1177" y="363.6">60</text><text x="1177" y="378.3">45</text><text x="1177" y="393">30</text><text x="1177" y="407.6">15</text><text x="1177" y="422.3">5</text>
</g>

<!-- ===== R34 PANELS ===== -->
<!-- NWQ -->
<g clip-path="url(#cNW)">
<g transform="translate(768.3,649) scale(0.863,-0.4077)">
<polyline class="lt R" points="0,157 6,206 12,222 18,190 24,173 30,171 36,176 42,169 48,181 54,177 60,194 66,210 72,181 78,177 84,190 90,198 96,202 102,210 108,218 114,235 120,198 126,235 132,181 138,186 144,173 150,194 156,198 162,190 168,243 174,263"/>
<polyline class="lt R" points="0,137 6,173 12,169 18,151 24,141 30,132 36,128 42,137 48,128 54,141 60,120 66,124 72,128 78,120 84,128 90,132 96,149 102,157 108,124 114,38 120,0 174,0"/>
<polyline class="lt B" points="0,161 6,194 12,161 18,161 24,165 30,165 36,161 42,177 48,181 54,177 60,202 66,206 72,177 78,181 84,198 90,202 96,198 102,186 108,186 114,186 120,187 126,145 132,96 138,71 144,157 150,55 156,0 168,0"/>
<polyline class="lt B" points="0,132 6,169 12,128 18,120 24,116 30,128 36,132 42,137 48,141 54,153 60,157 66,161 72,153 78,149 84,151 90,153 96,149 102,145 108,87 114,55 120,0 168,0"/>
<polyline class="lt G" points="0,157 6,153 12,169 18,154 24,153 30,173 36,177 42,199 48,190 54,169 60,190 66,186 72,173 78,181 84,198 90,186 96,153 102,141 108,112 114,92 120,116 126,116 132,87 138,83 144,63 150,38 156,43 162,6 168,30 174,63"/>
<polyline class="lt G" points="0,132 6,120 12,100 18,63 24,0 30,92 36,71 42,105 48,0 54,0 60,0 66,132 72,128 78,127 84,108 90,116 96,0 174,0"/>
<polyline class="ln R" points="0,149 6,190 12,206 18,179 24,161 30,154 36,157 42,151 48,154 54,157 60,151 66,161 72,154 78,149 84,161 90,165 96,169 102,176 108,184 114,161 120,124 126,112 132,100 138,92 144,97 150,102 156,97 162,93 168,110 174,118"/>
<polyline class="ln G" points="0,141 6,149 12,141 18,120 24,92 30,122 36,116 42,134 48,112 54,108 60,108 66,149 72,143 78,145 84,138 90,138 96,102 102,104 108,67 114,48 120,63 126,57 132,55 138,45 144,34 150,26 156,30 162,20 168,30 174,42"/>
<polyline class="ln B" points="0,145 6,184 12,141 18,145 24,132 30,143 36,149 42,157 48,157 54,167 60,176 66,179 72,163 78,169 84,168 90,176 96,169 102,165 108,132 114,128 120,112 126,87 132,78 138,78 144,79 150,38 156,0 162,0 168,0"/>
</g></g>
<!-- NEQ -->
<g clip-path="url(#cNE)">
<g transform="translate(984.3,649) scale(0.857,-0.4077)">
<polyline class="lt R" points="0,235 6,245 12,255 18,260 24,265 30,255 36,245 42,250 48,270 54,285 60,290 66,285 72,280 78,260 84,255 90,265 96,270 102,260 108,250 114,245 120,235 126,240 132,250 138,265 144,265 150,285 156,290 162,305 168,285 174,260"/>
<polyline class="lt R" points="0,180 6,190 12,195 18,200 24,185 30,175 36,180 42,170 48,175 54,185 60,190 66,195 72,200 78,195 84,200 90,190 96,185 102,200 108,195 114,160 120,150 120,0 174,0"/>
<polyline class="lt B" points="0,265 6,240 12,245 18,255 24,265 30,265 36,265 42,255 48,240 54,240 60,245 66,265 72,255 78,255 84,245 90,230 96,225 102,215 108,195 114,185 120,170 126,150 132,50 138,170 144,130 150,0 168,0"/>
<polyline class="lt B" points="0,170 6,160 12,160 18,175 24,180 30,175 36,160 42,175 48,175 54,165 60,185 66,200 72,195 78,200 84,185 90,185 96,180 102,170 108,160 114,150 120,100 126,0 168,0"/>
<polyline class="lt G" points="0,135 6,145 12,165 18,195 24,215 30,225 36,215 42,190 48,180 54,185 60,205 66,220 72,215 78,210 84,205 90,200 96,195 102,190 108,180 114,170 120,160 126,0 156,0 162,170 168,0 174,115"/>
<polyline class="lt G" points="0,0 6,125 12,125 18,140 24,155 30,165 36,175 42,160 48,155 54,160 60,155 66,150 72,160 78,155 84,155 90,150 96,30 102,0 174,0"/>
<polyline class="ln R" points="0,202 6,208 12,218 18,227 24,239 30,230 36,239 42,233 48,218 54,214 60,239 66,239 72,236 78,227 84,222 90,227 96,214 102,210 108,190 114,206 120,151 126,184 132,187 138,169 144,151 150,173 156,179 162,176 168,161 174,169"/>
<polyline class="ln G" points="0,96 6,128 12,151 18,181 24,190 30,194 36,190 42,187 48,187 54,184 60,165 66,179 72,177 78,169 84,157 90,145 96,128 102,108 108,67 114,56 120,38 126,37 132,34 138,38 144,34 150,45 156,59 162,71 168,42 174,55"/>
<polyline class="ln B" points="0,218 6,198 12,198 18,218 24,227 30,222 36,214 42,212 48,210 54,222 60,219 66,235 72,222 78,230 84,210 90,202 96,186 102,169 108,149 114,141 120,104 126,67 132,61 138,96 144,75 150,38 156,0 162,0 168,0"/>
</g></g>
<!-- SWQ -->
<g clip-path="url(#cSW)">
<g transform="translate(768.3,814.3) scale(0.863,-0.4053)">
<polyline class="lt R" points="0,5 6,5 12,5 18,85 24,100 30,125 36,135 42,130 48,105 54,125 60,165 66,148 72,155 78,150 84,165 90,140 96,120 102,120 108,100 114,75 120,100 126,125 132,220 138,210 144,185 150,255 156,250 162,205 168,255 174,195"/>
<polyline class="lt R" points="0,0 6,0 12,0 18,10 24,40 30,60 36,80 42,55 48,70 54,80 60,140 66,125 72,130 78,130 84,120 90,100 96,90 102,75 108,55 114,50 120,45 126,60 132,80 138,85 144,90 150,100 156,105 162,85 168,110 174,100"/>
<polyline class="lt B" points="0,50 6,0 12,10 18,30 24,55 30,80 36,85 42,85 48,95 54,100 60,115 66,110 72,100 78,120 84,110 90,105 96,100 102,95 108,90 114,80 120,60 126,65 132,70 138,60 144,50 150,25 156,0 168,0"/>
<polyline class="lt B" points="0,0 18,0 24,10 30,20 36,40 42,50 48,80 54,95 60,100 66,95 72,90 78,85 84,60 90,45 96,40 102,20 108,0 168,0"/>
<polyline class="lt G" points="0,0 42,0 48,5 54,45 60,75 66,65 72,65 78,70 84,80 90,65 96,60 102,55 108,50 114,45 120,50 126,55 132,60 138,70 144,75 150,90 156,100 162,150 168,145 174,190"/>
<polyline class="lt G" points="0,0 78,0 84,45 90,0 174,0"/>
<polyline class="ln R" points="0,5 6,5 12,5 18,44 24,68 30,95 36,105 42,89 48,81 54,99 60,142 66,138 72,138 78,134 84,134 90,105 96,101 102,89 108,60 114,44 120,48 126,76 132,99 138,99 144,97 150,118 156,124 162,95 168,122 174,109"/>
<polyline class="ln G" points="0,2 6,1 12,0 48,0 54,2 60,31 66,35 72,44 78,52 84,60 90,39 96,25 102,23 108,23 114,19 120,25 126,23 132,31 138,44 144,41 150,48 156,56 162,70 168,72 174,89"/>
<polyline class="ln B" points="0,27 6,7 12,11 18,12 24,19 30,35 36,53 42,56 48,64 54,81 60,113 66,119 72,120 78,118 84,111 90,89 96,75 102,70 108,67 114,52 120,52 126,60 132,68 138,64 144,48 150,27 156,0 168,0"/>
</g></g>
<!-- SEQ -->
<g clip-path="url(#cSE)">
<g transform="translate(984.3,814.3) scale(0.857,-0.4053)">
<polyline class="lt R" points="0,90 6,190 12,150 18,240 24,250 30,210 36,140 42,135 48,150 54,165 60,170 66,160 72,170 78,155 84,175 90,130 96,120 102,110 108,100 114,95 120,90 126,330 132,340 138,200 144,0 156,10 162,30 168,0"/>
<polyline class="lt R" points="0,0 6,110 12,120 18,80 24,100 30,120 36,110 42,100 48,110 54,125 60,120 66,120 72,130 78,125 84,130 90,90 96,80 102,75 108,60 114,55 120,0 174,0"/>
<polyline class="lt B" points="0,245 6,65 12,120 18,175 24,245 30,200 36,170 42,180 48,160 54,150 60,145 66,140 72,150 78,150 84,140 90,120 96,110 102,105 108,100 114,95 120,70 126,0 132,0 138,10 144,130 150,0 168,0"/>
<polyline class="lt B" points="0,65 6,60 12,85 18,95 24,100 30,100 36,110 42,95 48,100 54,100 60,100 66,90 72,110 78,105 84,105 90,100 96,100 102,95 108,80 114,40 120,0 168,0"/>
<polyline class="lt G" points="0,0 18,0 24,90 30,140 36,125 42,120 48,110 54,120 60,115 66,130 72,135 78,140 84,120 90,60 96,40 102,35 108,30 114,25 120,40 126,60 132,110 138,110 144,200 150,220 156,240 162,245 168,250 174,250"/>
<polyline class="lt G" points="0,0 18,0 24,90 30,85 36,80 42,80 48,0 54,70 60,0 78,0 84,85 90,85 96,90 102,0 174,0"/>
<polyline class="ln R" points="0,72 6,130 12,101 18,150 24,134 30,118 36,101 42,109 48,113 54,118 60,122 66,126 72,118 78,122 84,142 90,109 96,85 102,89 108,105 114,93 120,109 126,159 132,179 138,212 144,200 150,208 156,220 162,226 168,212 174,171"/>
<polyline class="ln G" points="0,2 6,23 12,35 18,56 24,89 30,93 36,85 42,86 48,86 54,81 60,60 66,97 72,103 78,99 84,109 90,44 96,27 102,23 108,25 114,25 120,19 126,31 132,48 138,56 144,68 150,93 156,109 162,118 168,126 174,142"/>
<polyline class="ln B" points="0,163 6,93 12,113 18,134 24,159 30,138 36,142 42,134 48,126 54,113 60,113 66,126 72,130 78,122 84,118 90,76 96,68 102,76 108,48 114,44 120,68 126,68 132,70 138,76 144,90 150,44 156,0 168,0"/>
</g></g>

<!-- R34 frames and ticks -->
<g fill="none" stroke="#000" stroke-width="1.2">
<rect x="765" y="526.7" width="153.3" height="122.3"/>
<rect x="981.7" y="526.7" width="152.6" height="122.3"/>
<rect x="765" y="692.7" width="153.3" height="121.6"/>
<rect x="981.7" y="692.7" width="152.6" height="121.6"/>
</g>
<g stroke="#000" stroke-width="0.9">
<path d="M760,649H765M760,628.6H765M760,608.2H765M760,587.8H765M760,567.5H765M760,547.1H765M760,526.7H765"/>
<path d="M760,814.3H765M760,794H765M760,773.8H765M760,753.5H765M760,733.2H765M760,713H765M760,692.7H765"/>
<path d="M1134.3,649H1139.3M1134.3,628.6H1139.3M1134.3,608.2H1139.3M1134.3,587.8H1139.3M1134.3,567.5H1139.3M1134.3,547.1H1139.3M1134.3,526.7H1139.3"/>
<path d="M1134.3,814.3H1139.3M1134.3,794H1139.3M1134.3,773.8H1139.3M1134.3,753.5H1139.3M1134.3,733.2H1139.3M1134.3,713H1139.3M1134.3,692.7H1139.3"/>
<path d="M768.3,649V653.5M789,649V653.5M809.7,649V653.5M830.4,649V653.5M851.1,649V653.5M871.9,649V653.5M892.6,649V653.5M913.3,649V653.5"/>
<path d="M768.3,814.3V818.8M789,814.3V818.8M809.7,814.3V818.8M830.4,814.3V818.8M851.1,814.3V818.8M871.9,814.3V818.8M892.6,814.3V818.8M913.3,814.3V818.8"/>
<path d="M984.3,649V653.5M1004.9,649V653.5M1025.4,649V653.5M1046,649V653.5M1066.6,649V653.5M1087.1,649V653.5M1107.7,649V653.5M1128.3,649V653.5"/>
<path d="M984.3,814.3V818.8M1004.9,814.3V818.8M1025.4,814.3V818.8M1046,814.3V818.8M1066.6,814.3V818.8M1087.1,814.3V818.8M1107.7,814.3V818.8M1128.3,814.3V818.8"/>
</g>
<g class="tk" text-anchor="end">
<text x="757.5" y="651.6">0</text><text x="757.5" y="631.2">50</text><text x="757.5" y="610.8">100</text><text x="757.5" y="590.4">150</text><text x="757.5" y="570.1">200</text><text x="757.5" y="549.7">250</text><text x="757.5" y="529.3">300</text>
<text x="757.5" y="816.9">0</text><text x="757.5" y="796.6">50</text><text x="757.5" y="776.4">100</text><text x="757.5" y="756.1">150</text><text x="757.5" y="735.8">200</text><text x="757.5" y="715.6">250</text><text x="757.5" y="695.3">300</text>
</g>
<g class="tk" text-anchor="start">
<text x="1142" y="651.6">0</text><text x="1142" y="631.2">50</text><text x="1142" y="610.8">100</text><text x="1142" y="590.4">150</text><text x="1142" y="570.1">200</text><text x="1142" y="549.7">250</text><text x="1142" y="529.3">300</text>
<text x="1142" y="816.9">0</text><text x="1142" y="796.6">50</text><text x="1142" y="776.4">100</text><text x="1142" y="756.1">150</text><text x="1142" y="735.8">200</text><text x="1142" y="715.6">250</text><text x="1142" y="695.3">300</text>
</g>
<g class="tk" text-anchor="middle">
<text x="768.3" y="666">0</text><text x="789" y="666">24</text><text x="809.7" y="666">48</text><text x="830.4" y="666">72</text><text x="851.1" y="666">96</text><text x="871.9" y="666">120</text><text x="892.6" y="666">144</text><text x="913.3" y="666">168</text>
<text x="984.3" y="666">0</text><text x="1004.9" y="666">24</text><text x="1025.4" y="666">48</text><text x="1046" y="666">72</text><text x="1066.6" y="666">96</text><text x="1087.1" y="666">120</text><text x="1107.7" y="666">144</text><text x="1128.3" y="666">168</text>
<text x="768.3" y="832">0</text><text x="789" y="832">24</text><text x="809.7" y="832">48</text><text x="830.4" y="832">72</text><text x="851.1" y="832">96</text><text x="871.9" y="832">120</text><text x="892.6" y="832">144</text><text x="913.3" y="832">168</text>
<text x="984.3" y="832">0</text><text x="1004.9" y="832">24</text><text x="1025.4" y="832">48</text><text x="1046" y="832">72</text><text x="1066.6" y="832">96</text><text x="1087.1" y="832">120</text><text x="1107.7" y="832">144</text><text x="1128.3" y="832">168</text>
</g>
<g font-size="8" fill="#222">
<text x="768.5" y="538.7">NWQ</text>
<text x="984.5" y="538.7">NEQ</text>
<text x="768.5" y="704.5">SWQ</text>
<text x="984.5" y="704.5">SEQ</text>
</g>
</svg>
</body></html>
